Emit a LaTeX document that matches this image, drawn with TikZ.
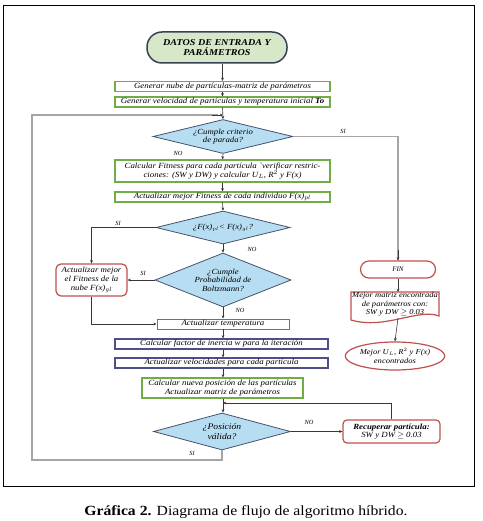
\documentclass[tikz,border=0pt]{standalone}
\usepackage{fontspec}
\setmainfont{Liberation Serif}
\newfontfamily\boxfont[FakeStretch=1.12]{Liberation Serif}
\usetikzlibrary{shapes.geometric,arrows.meta}
\definecolor{gborder}{RGB}{112,173,71}
\definecolor{tfill}{RGB}{214,232,200}
\definecolor{dfill}{RGB}{182,221,242}
\definecolor{dborder}{RGB}{70,82,105}
\definecolor{rborder}{RGB}{192,80,77}
\definecolor{bborder}{RGB}{78,78,138}
\definecolor{loopc}{RGB}{165,165,165}
\definecolor{arrc}{RGB}{55,55,55}
\tikzset{
  txt/.style={font=\boxfont\fontsize{7.9}{8.6}\selectfont\itshape, align=center},
  dtxt/.style={font=\boxfont\fontsize{7.8}{8.6}\selectfont\itshape, align=center},
  gbox/.style={txt, draw=gborder, line width=1.2pt, fill=white, inner sep=0pt},
  rbox/.style={txt, draw=rborder, line width=0.9pt, fill=white, inner sep=0pt},
  bbox/.style={txt, draw=bborder, line width=1.2pt, fill=white, inner sep=0pt},
  dec/.style={dtxt, diamond, draw=dborder, line width=0.8pt, fill=dfill, inner sep=0pt},
  conn/.style={draw=arrc, line width=0.6pt, -{Stealth[length=3.2pt,width=2.8pt]}},
  loopl/.style={draw=loopc, line width=1.4pt},
  lbl/.style={font=\fontsize{6.3}{7}\selectfont\itshape, inner sep=0pt},
}
\begin{document}
\begin{tikzpicture}[x=1pt,y=-1pt]
\useasboundingbox (0,0) rectangle (482,521);
% frame
\draw[black, line width=1pt] (3,6) rectangle (474,486);

% nodes
\node[txt, draw=dborder!80!black, line width=1.5pt, fill=tfill, rounded corners=15pt,
      minimum width=140pt, minimum height=31pt, inner sep=0pt,
      font=\boxfont\fontsize{9}{10}\selectfont\bfseries\itshape] (start) at (217,47.5)
      {DATOS DE ENTRADA Y\\PARÁMETROS};
\node[gbox, minimum width=215pt, minimum height=10pt] (g1) at (222.5,86.5)
      {Generar nube de partículas-matriz de parámetros};
\node[gbox, minimum width=215pt, minimum height=10pt] (g2) at (222.5,102)
      {Generar velocidad de partículas y temperatura inicial \textbf{To}};
\node[dec, minimum width=140pt, minimum height=34pt, shape aspect=4.1] (d1) at (223,136.5)
      {¿Cumple criterio\\de parada?};
\node[gbox, minimum width=215pt, minimum height=22pt] (g3) at (222.5,171)
      {Calcular Fitness para cada partícula `verificar restric-\\ciones: (SW y DW) y calcular U$_L$, R$^2$ y F(x)};
\node[gbox, minimum width=215pt, minimum height=10pt] (g4) at (222.5,197)
      {Actualizar mejor Fitness de cada individuo F(x)$_{pl}$};
\node[dec, minimum width=134pt, minimum height=33pt, shape aspect=4] (d2) at (223,227.5)
      {¿F(x)$_{pl}$< F(x)$_{gl}$?};
\node[rbox, rounded corners=5pt, line width=1.2pt, minimum width=71pt, minimum height=32pt] (ra) at (91.5,280)
      {Actualizar mejor\\el Fitness de la\\nube F(x)$_{gl}$};
\node[dec, minimum width=136pt, minimum height=54pt, shape aspect=2.5] (d3) at (223,280)
      {¿Cumple\\Probabilidad de\\Boltzmann?};
\node[rbox, minimum width=132pt, minimum height=10pt] (temp) at (223,324)
      {Actualizar temperatura};
\node[bbox, minimum width=213pt, minimum height=10pt] (b1) at (221.5,344)
      {Calcular factor de inercia w para la iteración};
\node[bbox, minimum width=213pt, minimum height=10pt] (b2) at (221.5,363)
      {Actualizar velocidades para cada partícula};
\node[gbox, minimum width=161pt, minimum height=20pt] (g5) at (222.5,388)
      {Calcular nueva posición de las partículas\\Actualizar matriz de parámetros};
\node[dec, minimum width=137pt, minimum height=37pt, shape aspect=3.7,
      font=\boxfont\fontsize{8.6}{9.4}\selectfont\itshape] (d4) at (222,431.5)
      {¿Posición\\válida?};
\node[rbox, rounded corners=4pt, line width=1.2pt, minimum width=97pt, minimum height=23pt] (rec) at (391.5,431.5)
      {\textbf{Recuperar partícula:}\\SW y DW $\geq$ 0.03};
\node[rbox, rounded corners=8.5pt, line width=1.2pt, minimum width=75pt, minimum height=17pt,
      font=\fontsize{7}{8}\selectfont\itshape] (fin) at (398,269.5)
      {FIN};
\draw[rborder, line width=1.2pt, fill=white] (351,292) -- (439,292) -- (439,316)
      .. controls (418,308) and (385,330) .. (351,320) -- cycle;
\node[txt, minimum width=88pt, minimum height=26pt, inner sep=0pt,
      font=\boxfont\fontsize{7.6}{8.4}\selectfont\itshape] (doc) at (395,304.5)
      {Mejor matriz encontrada\\de parámetros con:\\SW y DW $\geq$ 0.03};
\node[txt, ellipse, draw=rborder, line width=1.2pt, fill=white, minimum width=86pt, minimum height=28pt, inner sep=0pt,
      font=\boxfont\fontsize{7.6}{8.4}\selectfont\itshape] (ell) at (395,356)
      {Mejor U$_L$, R$^2$ y F(x)\\encontrados};

% connectors
\draw[conn] (start.south -| g1.north) -- (g1.north);
\draw[conn] (g1) -- (g2);
\draw[conn] (g2.south) -- (d1.north);
\draw[conn] (d1.south) -- (g3.north);
\draw[conn] (g3) -- (g4);
\draw[conn] (g4.south) -- (d2.north);
\draw[conn] (d2.south) -- (d3.north);
\draw[conn] (d3.south) -- (temp.north);
\draw[conn] (temp.south) -- (b1.north -| temp.south);
\draw[conn] (b1.south -| temp.south) -- (b2.north -| temp.south);
\draw[conn] (b2.south -| temp.south) -- (g5.north -| temp.south);
\draw[conn] (g5.south -| temp.south) -- (d4.north -| temp.south);
\draw[conn] (d2.west) -| (ra.north);
\draw[conn] (d3.west) -- (ra.east);
\draw[conn] (ra.south) |- (temp.west);
\draw[conn] (d4.east) -- (rec.west);
\coordinate (lp) at (223,403);
\draw[conn] (rec.north) |- (lp);
\draw[draw=loopc, line width=1.2pt] (d1.east) -| (fin.north);
\coordinate (fa) at (398,250);
\draw[conn] (fa) -- (fin.north);
\draw[conn] (fin.south) -- (398,292);
\coordinate (db) at (398,318);
\draw[conn] (db) -- (ell.north);
% big loop
\coordinate (lb) at (32,460);
\coordinate (lt) at (32,115);
\coordinate (lj) at (223,115);
\coordinate (lk) at (212,115);
\draw[loopl] (d4.south) -- (d4.south |- lb) -- (lb) -- (lt) -- (218,115);
\draw[conn] (lk) -- (lj);

% labels
\node[lbl] (l1) at (343,131) {SI};
\node[lbl] (l2) at (178,153.5) {NO};
\node[lbl] (l3) at (118,223) {SI};
\node[lbl] (l4) at (252,249) {NO};
\node[lbl] (l5) at (143,273) {SI};
\node[lbl] (l6) at (240,310) {NO};
\node[lbl] (l7) at (309,422) {NO};
\node[lbl] (l8) at (192,453) {SI};

% caption
\node[font=\boxfont\fontsize{14}{16}\selectfont] (cap) at (246,512)
  {\textbf{Gráfica 2.} Diagrama de flujo de algoritmo híbrido.};
\end{tikzpicture}
\end{document}
